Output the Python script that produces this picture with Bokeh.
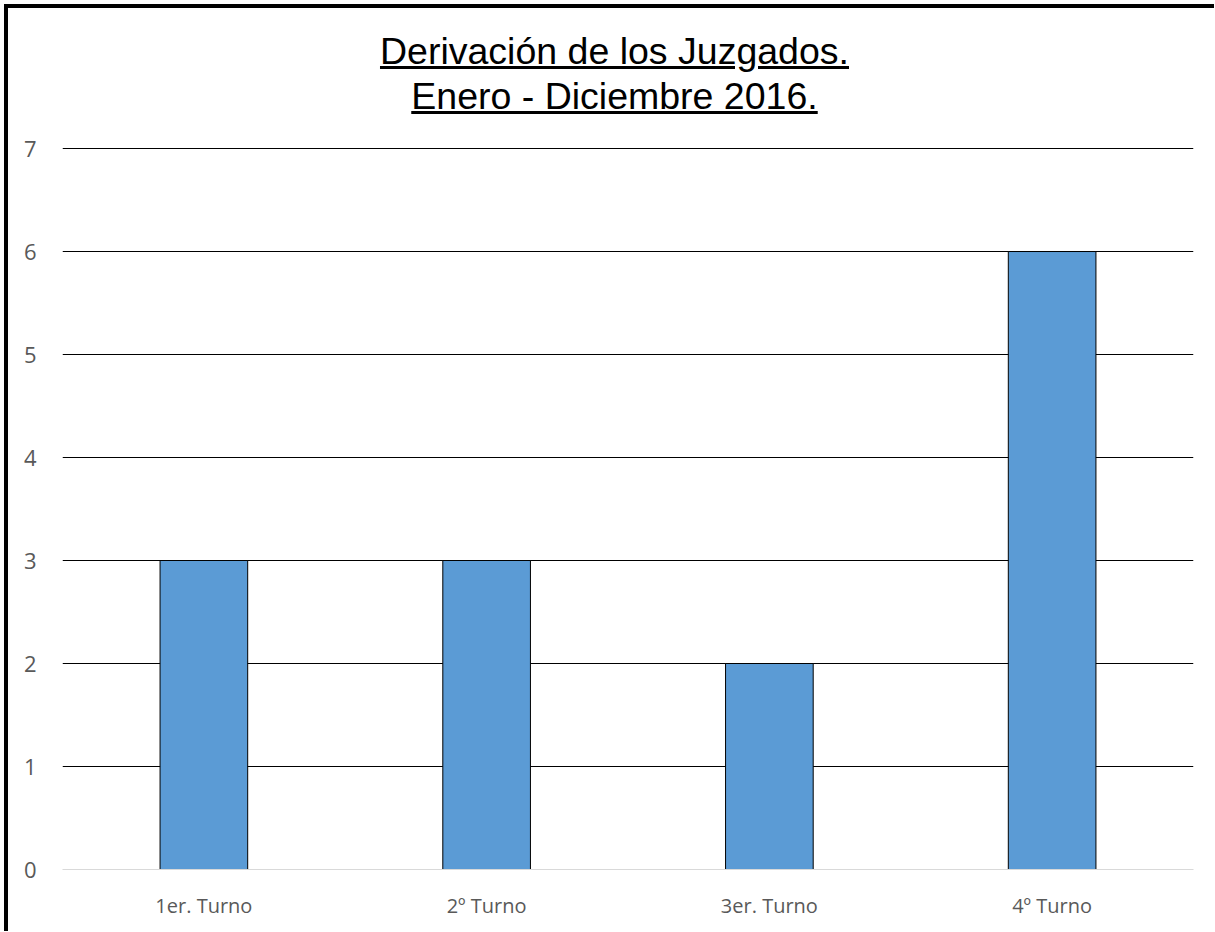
from bokeh.plotting import figure
from bokeh.models import FactorRange, Range1d, Div
from bokeh.layouts import column
from bokeh.embed import file_html
from bokeh.resources import INLINE

categories = ["1er. Turno", "2º Turno", "3er. Turno", "4º Turno"]
values = [3, 3, 2, 6]
y_ticks = [0, 1, 2, 3, 4, 5, 6, 7]
title_lines = ["Derivación de los Juzgados.", "Enero - Diciembre 2016."]

W = 1206
title_html = ('<div style="display:block; width:%dpx; box-sizing:border-box; text-align:center; '
              'font-family:\'Liberation Sans\'; font-size:37.5px; '
              'line-height:45px; color:black; padding-top:21px; padding-left:7px;">' % W
              + "<br>".join(f"<u>{t}</u>" for t in title_lines) + "</div>")
title = Div(text=title_html, width=W, height=121, margin=0,
            styles={"background": "white", "width": f"{W}px"})

p = figure(width=W, height=802, output_backend="svg", toolbar_location=None,
           x_range=FactorRange(*categories, range_padding=0),
           y_range=Range1d(0, 7.01), margin=0,
           min_border_left=54, min_border_right=21, min_border_top=18, min_border_bottom=62)
p.outline_line_color = None
p.background_fill_color = "white"
p.border_fill_color = "white"

p.vbar(x=categories, top=values, width=0.31, fill_color="#5B9BD5", line_color="black", line_width=1)

p.yaxis.ticker = y_ticks
p.ygrid.grid_line_color = "black"
p.ygrid.grid_line_width = 1
p.xgrid.grid_line_color = None
p.yaxis.axis_line_color = None
p.yaxis.minor_tick_line_color = None
p.xaxis.axis_line_color = "#D9D9D9"
for ax in (p.xaxis, p.yaxis):
    ax.major_tick_line_color = None
    ax.major_tick_out = 0
    ax.major_tick_in = 0
    ax.major_label_text_font = "Open Sans"
    ax.major_label_text_color = "#595959"
p.xaxis.major_label_standoff = 22
p.yaxis.major_label_standoff = 26
p.xaxis.major_label_text_font_size = "20px"
p.yaxis.major_label_text_font_size = "22px"

layout = column(title, p, spacing=0, margin=(4, 0, 0, 4),
                styles={"border-left": "4px solid black", "border-top": "4px solid black",
                        "background": "white"})

open("out.html", "w").write(file_html(layout, INLINE))
